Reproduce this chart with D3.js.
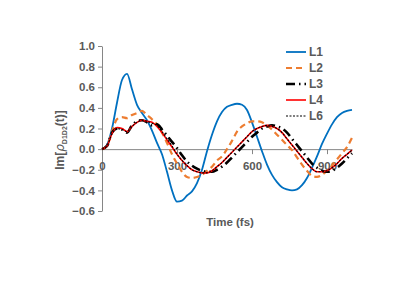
<!DOCTYPE html>
<html>
<head>
<meta charset="utf-8">
<script src="https://cdn.jsdelivr.net/npm/d3@7"></script>
<style>
  body { margin: 0; background: #fff; }
  text { font-family: "Liberation Sans Narrow", "Liberation Sans", Arial, sans-serif; font-weight: bold; fill: #595959; }
</style>
</head>
<body>
<script>
// time points (fs)
const times = d3.range(0, 1001, 20);
const seriesNames = ["L1", "L2", "L3", "L4", "L6"];
const L1 = [0,0.04,0.2,0.45,0.67,0.73,0.58,0.43,0.35,0.28,0.18,0.06,-0.05,-0.22,-0.4,-0.51,-0.5,-0.45,-0.41,-0.33,-0.2,-0.02,0.14,0.27,0.36,0.41,0.43,0.44,0.43,0.38,0.26,0.12,-0.02,-0.15,-0.25,-0.32,-0.37,-0.39,-0.4,-0.39,-0.35,-0.28,-0.18,-0.07,0.05,0.15,0.24,0.31,0.35,0.37,0.38];
const L2 = [0,0.03,0.17,0.29,0.31,0.3,0.33,0.35,0.37,0.33,0.29,0.24,0.16,0.06,-0.05,-0.14,-0.22,-0.27,-0.28,-0.27,-0.25,-0.21,-0.17,-0.11,-0.07,0,0.08,0.17,0.22,0.25,0.27,0.27,0.26,0.23,0.19,0.14,0.09,0.04,-0.01,-0.08,-0.15,-0.21,-0.26,-0.27,-0.25,-0.21,-0.16,-0.1,-0.04,0.02,0.11];
const L3 = [0,0.03,0.16,0.2,0.19,0.16,0.23,0.27,0.28,0.26,0.23,0.24,0.19,0.13,0.07,0.01,-0.06,-0.12,-0.16,-0.19,-0.21,-0.22,-0.22,-0.2,-0.17,-0.13,-0.08,-0.03,0.02,0.07,0.12,0.16,0.2,0.22,0.23,0.22,0.2,0.16,0.1,0.04,-0.02,-0.08,-0.14,-0.18,-0.21,-0.22,-0.21,-0.18,-0.14,-0.09,-0.04];
const L4 = [0,0.03,0.15,0.21,0.2,0.17,0.22,0.26,0.28,0.27,0.26,0.22,0.16,0.09,0.02,-0.05,-0.11,-0.16,-0.2,-0.22,-0.23,-0.23,-0.21,-0.17,-0.13,-0.08,-0.03,0.02,0.07,0.12,0.17,0.2,0.22,0.23,0.22,0.2,0.16,0.1,0.04,-0.02,-0.08,-0.14,-0.19,-0.22,-0.22,-0.21,-0.18,-0.14,-0.09,-0.05,-0.01];
const L6 = [0,0.03,0.15,0.2,0.19,0.17,0.22,0.26,0.28,0.27,0.25,0.23,0.17,0.1,0.03,-0.05,-0.11,-0.16,-0.2,-0.22,-0.23,-0.23,-0.21,-0.17,-0.13,-0.08,-0.03,0.02,0.07,0.12,0.17,0.2,0.22,0.23,0.22,0.2,0.16,0.1,0.04,-0.02,-0.08,-0.14,-0.19,-0.22,-0.22,-0.21,-0.18,-0.14,-0.09,-0.05,-0.01];
const xTicks = [0, 300, 600, 900];
const yTicks = [-0.6, -0.4, -0.2, 0, 0.2, 0.4, 0.6, 0.8, 1.0];

const width = 415, height = 294;
const x = d3.scaleLinear().domain([0, 1000]).range([102, 352]);
const y = d3.scaleLinear().domain([-0.6, 1.0]).range([211, 46]);

const svg = d3.select("body").append("svg")
  .attr("width", width)
  .attr("height", height);

// y axis
svg.append("g")
  .attr("transform", `translate(${x(0)},0)`)
  .call(d3.axisLeft(y).tickValues(yTicks).tickFormat(d3.format(".1f")).tickSizeInner(4).tickSizeOuter(0).tickPadding(3))
  .call(g => g.select(".domain").attr("stroke", "#868686"))
  .call(g => g.selectAll(".tick line").attr("stroke", "#868686"))
  .call(g => g.selectAll("text").style("font-size", "11.5px").attr("fill", "#595959"));

// x axis through zero
svg.append("g")
  .attr("transform", `translate(0,${y(0)})`)
  .call(d3.axisBottom(x).tickValues(xTicks).tickFormat(d3.format("d")).tickSizeInner(5).tickSizeOuter(0).tickPadding(8))
  .call(g => g.select(".domain").attr("stroke", "#868686"))
  .call(g => g.selectAll(".tick line").attr("stroke", "#868686"))
  .call(g => g.selectAll("text").style("font-size", "11.5px").attr("fill", "#595959"));

const styles = {
  L1: { color: "#0070C0", w: 1.8, dash: null },
  L2: { color: "#ED7D31", w: 2.2, dash: "6,4" },
  L3: { color: "#000000", w: 2.6, dash: "9,4,1.5,4" },
  L4: { color: "#FF0000", w: 1.6, dash: null },
  L6: { color: "#000000", w: 1.1, dash: "2,1.5" }
};
const values = { L1, L2, L3, L4, L6 };

const line = d3.line()
  .x((d, i) => x(times[i]))
  .y(d => y(d))
  .curve(d3.curveMonotoneX);

seriesNames.forEach(name => {
  svg.append("path")
    .datum(values[name])
    .attr("fill", "none")
    .attr("stroke", styles[name].color)
    .attr("stroke-width", styles[name].w)
    .attr("stroke-dasharray", styles[name].dash)
    .attr("d", line);
});

// legend
const legend = svg.append("g").attr("transform", "translate(286,52)");
seriesNames.forEach((name, i) => {
  const g = legend.append("g").attr("transform", `translate(0,${i * 16})`);
  g.append("line").attr("x1", 0).attr("x2", 20).attr("y1", 0).attr("y2", 0)
    .attr("stroke", styles[name].color)
    .attr("stroke-width", styles[name].w)
    .attr("stroke-dasharray", styles[name].dash);
  g.append("text").attr("x", 23).attr("y", 0).attr("dy", "0.35em")
    .style("font-size", "12px").text(name);
});

// axis titles
svg.append("text")
  .attr("x", 230).attr("y", 226)
  .attr("text-anchor", "middle")
  .style("font-size", "11.5px")
  .text("Time (fs)");

const yt = svg.append("text")
  .attr("transform", "translate(64,140) rotate(-90)")
  .attr("text-anchor", "middle")
  .style("font-size", "12px");
yt.append("tspan").text("Im[");
yt.append("tspan").style("font-style", "italic").style("font-family", "DejaVu Sans").style("font-weight", "normal").text("ρ");
yt.append("tspan").attr("dy", 3).style("font-size", "7px").text("D1D2");
yt.append("tspan").attr("dy", -3).text("(t)]");
</script>
</body>
</html>
